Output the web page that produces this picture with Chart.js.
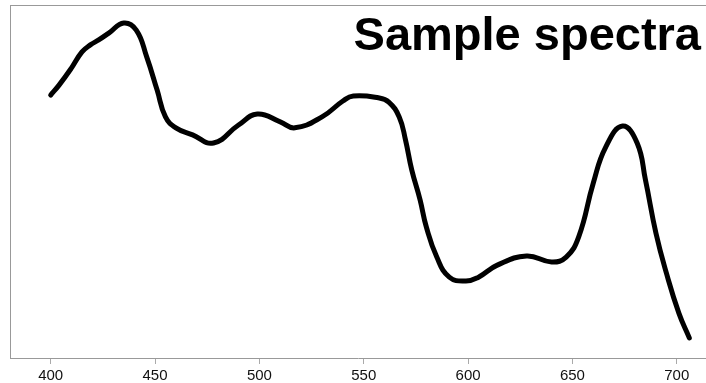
<!DOCTYPE html>
<html>
<head>
<meta charset="utf-8">
<script src="https://cdn.jsdelivr.net/npm/chart.js@4"></script>
<style>
  html, body { margin: 0; padding: 0; background: #fff; }
  #wrap { width: 706px; height: 383px; position: relative; }
</style>
</head>
<body>
<div id="wrap"><canvas id="grafico"></canvas></div>
<script>
// ======= DADOS =======
const titulo = "Sample spectra";
const comprimentos = [400, 404, 410, 415, 419, 423, 428, 435, 441, 446, 451, 455, 460, 468, 478, 490, 499, 510, 517, 530, 540, 545,
  557, 562, 567, 570, 573, 577, 580, 585, 591, 599, 605, 614, 628, 640, 647, 653, 660, 666, 674, 681,
  685, 690, 695, 701, 706];
const intensidades = [0.745, 0.773, 0.822, 0.867, 0.887, 0.901, 0.921, 0.949, 0.929, 0.853, 0.759, 0.683, 0.652, 0.632, 0.609, 0.660, 0.691, 0.669, 0.652, 0.683, 0.728, 0.742,
  0.737, 0.725, 0.683, 0.618, 0.533, 0.448, 0.371, 0.286, 0.229, 0.218, 0.229, 0.263, 0.289, 0.272, 0.286, 0.343, 0.496, 0.598, 0.657, 0.609,
  0.504, 0.354, 0.241, 0.127, 0.057];
const ticksX = [400, 450, 500, 550, 600, 650, 700];

// ======= PLUGINS =======
const bordaTopo = {
  id: "bordaTopo",
  afterDraw(chart) {
    const { ctx, chartArea } = chart;
    ctx.save();
    ctx.strokeStyle = "#999";
    ctx.lineWidth = 1;
    ctx.beginPath();
    ctx.moveTo(chartArea.left, chartArea.top + 0.5);
    ctx.lineTo(chartArea.right, chartArea.top + 0.5);
    ctx.stroke();
    ctx.restore();
  }
};

const tituloDentro = {
  id: "tituloDentro",
  afterDraw(chart) {
    const { ctx } = chart;
    ctx.save();
    ctx.font = "bold 47px 'Liberation Sans', Arial, sans-serif";
    ctx.fillStyle = "#000";
    ctx.textAlign = "right";
    ctx.textBaseline = "alphabetic";
    ctx.fillText(titulo, 701, 50);
    ctx.restore();
  }
};

// ======= GRÁFICO =======
const ctx = document.getElementById("grafico");
new Chart(ctx, {
  type: "line",
  data: {
    datasets: [{
      data: comprimentos.map((x, i) => ({ x, y: intensidades[i] })),
      borderColor: "#000",
      borderWidth: 5,
      pointRadius: 0,
      tension: 0.45,
      borderCapStyle: "round",
      borderJoinStyle: "round",
      fill: false
    }]
  },
  options: {
    responsive: true,
    maintainAspectRatio: false,
    animation: false,
    layout: { padding: { left: 10, top: 5, right: 0, bottom: -4 } },
    plugins: { legend: { display: false }, tooltip: { enabled: false } },
    scales: {
      x: {
        type: "linear",
        min: 380.5,
        max: 714,
        afterBuildTicks: scale => { scale.ticks = ticksX.map(v => ({ value: v })); },
        grid: { drawOnChartArea: false, drawTicks: true, tickLength: 6, color: "#aaa" },
        border: { display: true, color: "#999", width: 1 },
        ticks: {
          color: "#111",
          font: { family: "'Liberation Sans', Arial, sans-serif", size: 15, lineHeight: 1.0 },
          padding: 4,
          maxRotation: 0
        }
      },
      y: {
        min: 0,
        max: 1,
        grid: { display: false, drawTicks: false },
        border: { display: true, color: "#999", width: 1 },
        ticks: { display: false }
      }
    }
  },
  plugins: [bordaTopo, tituloDentro]
});
</script>
</body>
</html>
